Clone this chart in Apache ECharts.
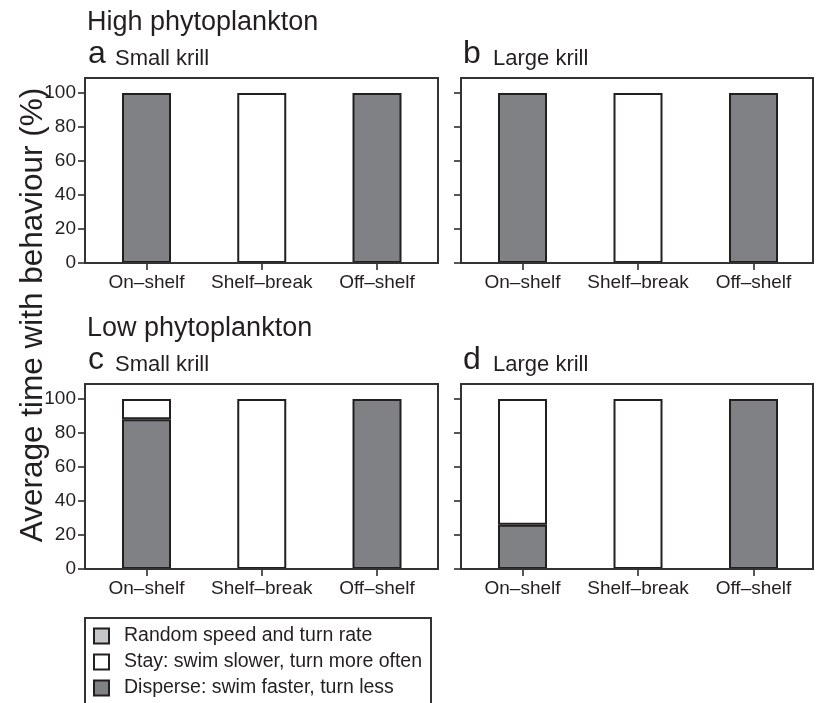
<!DOCTYPE html>
<html>
<head>
<meta charset="utf-8">
<script src="https://cdn.jsdelivr.net/npm/echarts@6/dist/echarts.min.js"></script>
<style>html,body{margin:0;padding:0;background:#fff}#c{width:819px;height:703px}</style>
</head>
<body>
<div id="c"></div>
<script>
// ---- data ----
var categories = ['On\u2013shelf', 'Shelf\u2013break', 'Off\u2013shelf'];
var yTicks = [0, 20, 40, 60, 80, 100];
var seriesNames = ['Random speed and turn rate', 'Stay: swim slower, turn more often', 'Disperse: swim faster, turn less'];
var panelLetters = ['a', 'b', 'c', 'd'];
var panelTitles = ['Small krill', 'Large krill', 'Small krill', 'Large krill'];
var rowTitles = ['High phytoplankton', 'Low phytoplankton'];
// values per panel (a, b, c, d), in % of time
var disperseA = [100, 0, 100];
var stayA = [0, 100, 0];
var randomA = [0, 0, 0];
var disperseB = [100, 0, 100];
var stayB = [0, 100, 0];
var randomB = [0, 0, 0];
var disperseC = [88, 0, 100];
var stayC = [12, 100, 0];
var randomC = [0, 0, 0];
var disperseD = [26, 0, 100];
var stayD = [74, 100, 0];
var randomD = [0, 0, 0];

var panels = [
  { disperse: disperseA, stay: stayA, random: randomA },
  { disperse: disperseB, stay: stayB, random: randomB },
  { disperse: disperseC, stay: stayC, random: randomC },
  { disperse: disperseD, stay: stayD, random: randomD }
];

var FONT = '"Liberation Sans", Arial, Helvetica, sans-serif';
var INK = '#231f20';
var colors = { random: '#c6c7c9', stay: '#ffffff', disperse: '#808184' };

// frame boxes and the plotting grids inside them
var frames = [
  { x: 85, y: 78, w: 353, h: 185 },
  { x: 461, y: 78, w: 352, h: 185 },
  { x: 85, y: 384, w: 353, h: 185 },
  { x: 461, y: 384, w: 352, h: 185 }
];
var gridPos = [
  { left: 88.875, top: 78, width: 345.75, height: 185 },
  { left: 464.75, top: 78, width: 346.5, height: 185 },
  { left: 88.875, top: 384, width: 345.75, height: 185 },
  { left: 464.75, top: 384, width: 346.5, height: 185 }
];

var grids = [], xAxes = [], yAxes = [], series = [];
gridPos.forEach(function (g, i) {
  grids.push({ left: g.left, top: g.top, width: g.width, height: g.height, show: false, containLabel: false });
  xAxes.push({
    type: 'category', gridIndex: i, data: categories, boundaryGap: true,
    splitLine: { show: false },
    axisLine: { show: false },
    axisTick: { show: true, alignWithLabel: true, length: 7, inside: false, lineStyle: { color: INK, width: 1.5 } },
    axisLabel: { show: true, margin: 10, fontSize: 19, color: INK, fontFamily: FONT, interval: 0 }
  });
  yAxes.push({
    type: 'value', gridIndex: i, min: 0, max: 108.8,
    offset: g.left - frames[i].x,
    splitLine: { show: false },
    axisLine: { show: false },
    axisTick: { show: true, length: 7, inside: false, customValues: yTicks, lineStyle: { color: INK, width: 1.5 } },
    axisLabel: { show: (i % 2 === 0), customValues: yTicks, margin: 9, fontSize: 19, color: INK, fontFamily: FONT }
  });
  var p = panels[i];
  function mk(name, arr, color) {
    return {
      name: name, type: 'bar', xAxisIndex: i, yAxisIndex: i, stack: 'p' + i, barWidth: 49,
      itemStyle: { color: color, borderColor: INK, borderWidth: 2 },
      emphasis: { disabled: true }, animation: false,
      data: arr.map(function (v) { return v === 0 ? null : v; })
    };
  }
  series.push(mk(seriesNames[2], p.disperse, colors.disperse));
  series.push(mk(seriesNames[1], p.stay, colors.stay));
  series.push(mk(seriesNames[0], p.random, colors.random));
});

var graphics = [];
frames.forEach(function (f) {
  graphics.push({ type: 'rect', z: 50, shape: { x: f.x, y: f.y, width: f.w, height: f.h },
    style: { fill: 'none', stroke: '#333', lineWidth: 2 } });
});
// row titles
rowTitles.forEach(function (t, r) {
  graphics.push({ type: 'text', x: 87, y: 22.6 + r * 306, z: 100,
    style: { text: t, fontSize: 27, fontFamily: FONT, fill: INK, textAlign: 'left', textVerticalAlign: 'middle' } });
});
// panel letters and titles
var letterX = [88, 463, 88, 463];
var titleX = [115, 493, 115, 493];
panelLetters.forEach(function (l, i) {
  var base = i < 2 ? 0 : 306;
  graphics.push({ type: 'text', x: letterX[i], y: 54.6 + base, z: 100,
    style: { text: l, fontSize: 32, fontFamily: FONT, fill: INK, textAlign: 'left', textVerticalAlign: 'middle' } });
  graphics.push({ type: 'text', x: titleX[i], y: 58.5 + base, z: 100,
    style: { text: panelTitles[i], fontSize: 22, fontFamily: FONT, fill: INK, textAlign: 'left', textVerticalAlign: 'middle' } });
});
// y axis title
graphics.push({ type: 'text', x: 33, y: 315, rotation: Math.PI / 2, z: 100,
  style: { text: 'Average time with behaviour (%)', fontSize: 31.5, fontFamily: FONT, fill: INK,
    textAlign: 'center', textVerticalAlign: 'middle' } });
// legend box
graphics.push({ type: 'rect', z: 1, shape: { x: 85, y: 618, width: 346, height: 120 },
  style: { fill: 'none', stroke: '#333', lineWidth: 2 } });

var chart = echarts.init(document.getElementById('c'), null, { renderer: 'canvas' });
chart.setOption({
  animation: false,
  backgroundColor: '#fff',
  grid: grids,
  xAxis: xAxes,
  yAxis: yAxes,
  series: series,
  graphic: graphics,
  legend: {
    data: [seriesNames[0], seriesNames[1], seriesNames[2]],
    orient: 'vertical', left: 93, top: 626, padding: 0,
    itemWidth: 15, itemHeight: 15, itemGap: 6, icon: 'rect',
    selectedMode: false,
    textStyle: { fontSize: 19.5, lineHeight: 19, color: INK, fontFamily: FONT, padding: [0, 0, 0, 10] }
  }
});
</script>
</body>
</html>
